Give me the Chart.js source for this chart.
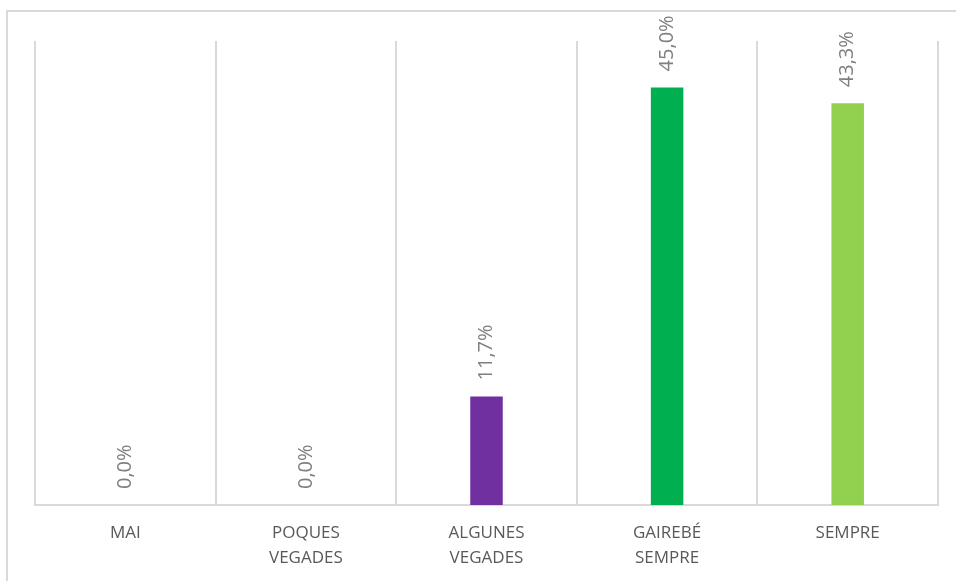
<!DOCTYPE html>
<html><head><meta charset="utf-8">
<script src="https://cdn.jsdelivr.net/npm/chart.js@4.4.1/dist/chart.umd.min.js"></script>
<style>
html,body{margin:0;padding:0;background:#fff;}
#wrap{position:relative;width:956px;height:581px;}
#frame{position:absolute;left:6px;top:10px;right:-10px;bottom:-10px;border-top:2px solid #d9d9d9;border-left:2px solid #d9d9d9;}
canvas{position:absolute;left:0;top:0;}
</style></head>
<body><div id="wrap"><div id="frame"></div><canvas id="c" width="956" height="581"></canvas></div>
<script>
const categories = [["MAI"], ["POQUES","VEGADES"], ["ALGUNES","VEGADES"], ["GAIREBÉ","SEMPRE"], ["SEMPRE"]];
const values = [0.0, 0.0, 11.7, 45.0, 43.3];
const valueLabels = ["0,0%", "0,0%", "11,7%", "45,0%", "43,3%"];
const barColors = ["#7F7F7F", "#7F7F7F", "#7030A0", "#00B050", "#92D050"];

const labelPlugin = {
  id: 'rotLabels',
  afterDatasetsDraw(chart) {
    const ctx = chart.ctx;
    const meta = chart.getDatasetMeta(0);
    ctx.save();
    ctx.font = '20px "Open Sans"';
    ctx.fillStyle = '#7f7f7f';
    ctx.textAlign = 'left';
    ctx.textBaseline = 'middle';
    meta.data.forEach((bar, i) => {
      ctx.save();
      ctx.translate(bar.x, bar.y - 16);
      ctx.rotate(-Math.PI / 2);
      ctx.fillText(valueLabels[i], 0, 0);
      ctx.restore();
    });
    ctx.restore();
  }
};

new Chart(document.getElementById('c'), {
  type: 'bar',
  data: {
    labels: categories,
    datasets: [{ data: values, backgroundColor: barColors, borderWidth: 0,
      categoryPercentage: 1.0, barPercentage: 0.18 }]
  },
  options: {
    responsive: false,
    animation: false,
    devicePixelRatio: 1,
    layout: { padding: { left: 35, right: 18, top: 41, bottom: 0 } },
    plugins: { legend: { display: false }, tooltip: { enabled: false } },
    scales: {
      x: {
        offset: true,
        afterFit(scale) { scale.height = 76; },
        grid: { display: true, offset: true, color: '#d9d9d9', lineWidth: 2, drawTicks: false },
        border: { display: true, color: '#d9d9d9', width: 2 },
        ticks: { color: '#595959', font: { family: '"Open Sans"', size: 17, lineHeight: 1.45 }, padding: 16, maxRotation: 0, autoSkip: false }
      },
      y: {
        display: false,
        min: 0, max: 50
      }
    }
  },
  plugins: [labelPlugin]
});
</script></body></html>
